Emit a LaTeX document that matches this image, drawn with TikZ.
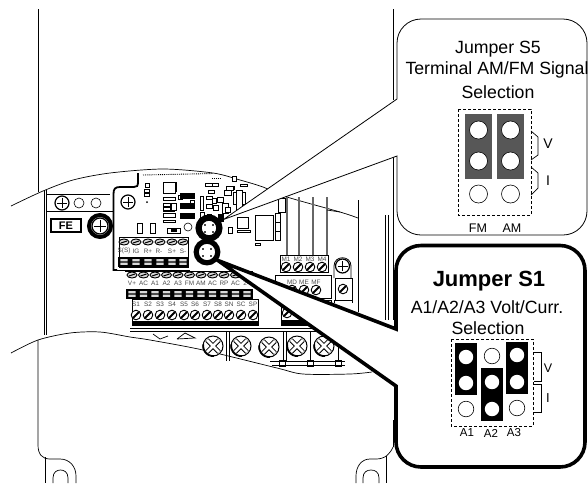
\documentclass[tikz,border=0pt]{standalone}
\usepackage{fontspec}
\setmainfont{Liberation Sans}
\definecolor{jumperGray}{HTML}{575757}
\definecolor{labelGray}{HTML}{4A4A4A}
\definecolor{blockGray}{HTML}{D8D8D8}
\tikzset{
  wire/.style={line width=0.7pt, black},
  part/.style={line width=0.6pt, draw=black, fill=white},
  solidpart/.style={line width=0.4pt, draw=black, fill=black},
  calloutthin/.style={line width=0.8pt, draw=black, fill=white},
  calloutthick/.style={line width=3.6pt, draw=black, fill=white, line join=miter},
  dashbox/.style={line width=0.6pt, draw=black, densely dashed},
  tinylabel/.style={font=\fontsize{6.4}{7}\selectfont, text=labelGray, inner sep=0pt},
  headtext/.style={font=\fontsize{17.7}{20}\selectfont, inner sep=0pt},
  pintext/.style={font=\fontsize{12.5}{14}\selectfont, inner sep=0pt},
}
\newcommand{\bigscrew}[2]{%
  \draw[part, line width=1pt] (#1,#2) circle[radius=10];
  \draw[line width=1.8pt] (#1+1,#2+10) arc[start angle=85, end angle=190, radius=10];
  \draw[line width=4.6pt] (#1-6,#2-6) -- (#1+6,#2+6) (#1-6,#2+6) -- (#1+6,#2-6);
  \draw[line width=2.8pt, white] (#1-6,#2-6) -- (#1+6,#2+6) (#1-6,#2+6) -- (#1+6,#2-6);%
}
\newcommand{\plusscrew}[3]{%
  \draw[part, line width=1.2pt] (#1,#2) circle[radius=#3];
  \draw[line width=0.8pt] (#1-#3+2,#2) -- (#1+#3-2,#2) (#1,#2-#3+2) -- (#1,#2+#3-2);%
}
\newcommand{\slotscrew}[2]{%
  \draw[part, line width=0.9pt] (#1,#2) circle[radius=4.8];
  \draw[line width=1.8pt] (#1-3,#2+3) -- (#1+3,#2-3);%
}
\newcommand{\flatscrew}[2]{%
  \draw[part, fill=blockGray, line width=0.9pt] (#1,#2) ellipse[x radius=5, y radius=3];
  \draw[line width=1pt] (#1-3,#2+1) -- (#1+3,#2-1);%
}
\newcommand{\boxcell}[2]{%
  \fill (#1-5.7,#2-4.6) rectangle (#1+5.7,#2+4.6);
  \fill[white!85!black] (#1-3.6,#2-2.8) rectangle (#1+3.6,#2-0.6) (#1-3.6,#2+0.6) rectangle (#1+3.6,#2+2.8);%
}
\begin{document}
\begin{tikzpicture}[x=1pt, y=-1pt]
\useasboundingbox (0,0) rectangle (588,483);

% --- HOUSING ---
\draw[wire] (38,9) -- (38,192);
\draw[wire] (38,340) -- (38,445) .. controls (38,454) and (42,459) .. (50,459)
  -- (60,459) .. controls (70,459) and (76,467) .. (76,476) -- (76,483);
\draw[wire] (45,457) -- (45,483);
\draw[wire] (53,483) -- (53,478) .. controls (53,472) and (57,470) .. (60.5,470)
  .. controls (64,470) and (68,472) .. (68,478) -- (68,483);
\draw[wire] (393,9) -- (393,100);
\draw[wire] (393,150) -- (393,320);
\draw[wire] (388,215) -- (388,320) (385,215) -- (385,320);
\draw[wire] (393,447) .. controls (390,454) and (385,459) .. (376,459)
  -- (370,459) .. controls (361,459) and (356,467) .. (356,476) -- (356,483);
\draw[wire] (386,456) -- (386,483);
\draw[wire] (363,483) -- (363,478) .. controls (363,472) and (367,470) .. (371,470)
  .. controls (375,470) and (379,472) .. (379,478) -- (379,483);
\draw[wire] (393,420) -- (393,447);

% --- CUT-AWAY EDGES ---
\draw[wire] plot[smooth] coordinates {(11,206) (43,191) (73,180) (110,173) (163,169)
  (213,173) (240,180) (263,187) (287,197) (340,212) (358,218)};
\draw[wire] plot[smooth] coordinates {(11,353) (38,340) (70,333) (100,332) (130,337)
  (150,340) (203,350) (277,368) (303,374) (350,374) (372,372)};

% --- LEFT PANEL ---
\draw[wire] (44,190) -- (44,335) (46.5,190) -- (46.5,335);
\draw[wire] (46,194) -- (110,194) (46,211) -- (113,211);
\plusscrew{62}{203}{7}
\draw[part] (79,203) circle[radius=5] (96,203) circle[radius=5];
\draw[part, line width=1.2pt] (51,219) rectangle (81,232);
\node[font=\bfseries\fontsize{11}{12}\selectfont, inner sep=0pt] (feText) at (66,226) {FE};
\draw[line width=4pt] (100,226) circle[radius=11];
\plusscrew{100}{226}{8}
\draw[line width=1.8pt] (117,270) -- (113.5,270) -- (113.5,194)
  .. controls (113.5,189) and (115,187) .. (120,187) -- (134,187)
  .. controls (137,187) and (138,186) .. (138,182) -- (138,173);
\draw[wire] (115,270) -- (190,270);

% --- BOARD PARTS ---
\plusscrew{128}{202}{7}
\fill (147,202) circle[radius=1];
\draw[line width=0.9pt, densely dotted] (143,175) -- (213,173.5);
\draw[line width=0.9pt, densely dotted] (212,178) -- (220,178);
\foreach \xa/\ya/\xb/\yb in {
  163/182/175/193, 145/183/149/187, 144/189/149/192, 144/193/149/196,
  163/197/175/200, 163/203/170/206, 163/207/170/210, 171/203/176/210,
  163/213/175/217, 163/220/175/222, 178/195/182/199, 137/223/142/233,
  150/223/155/233, 200/196/203/210, 206/196/212/199, 206/204/212/208,
  217/197/223/202, 222/203/228/213, 213/205/218/210, 227/186/234/189,
  225/207/230/212, 233/192/245/204, 237/217/248/228, 255/215/273/240,
  255/243/260/245, 236/190/242/212, 275/213/280/222, 275/222/280/231,
  275/231/280/240, 278/198/285/212, 226/186/233/190, 232/176/236/181,
  205/183/212/186, 212/183/218/186, 240/184/247/186, 228/227/232/233,
  237/230/250/232, 224/190/231/195, 208/190/214/193, 200/212/204/218,
  190/200/194/208, 212/198/216/203}{
  \draw[part] (\xa,\ya) rectangle (\xb,\yb);
}
\foreach \xa/\ya/\xb/\yb in {
  184/193/195/199, 184/203/195/209, 184/213/195/219, 180/193/184/199,
  180/203/184/209, 180/213/184/219, 170/229/176/233, 163/210/175/212,
  175/182/177/192, 207/214/212/222, 218/214/224/222}{
  \fill (\xa,\ya) rectangle (\xb,\yb);
}
\draw[part] (167,228) rectangle (180,233);
\fill (171,229) rectangle (177,232);
\draw[part] (188,227) circle[radius=4];

% --- TERMINAL ROW 1 ---
\draw[wire] (119,237) rectangle (188,267);
\foreach \xa in {124,136,148,160,172,183}{
  \flatscrew{\xa}{242}
  \boxcell{\xa}{262}
}
\foreach \xa/\lbl in {124/S(S), 136/IG, 148/R+, 159/R-, 172/S+, 183/S-}{
  \node[tinylabel] (upper\xa) at (\xa,251) {\lbl};
}

% --- TERMINAL ROW 2 ---
\draw[wire] (125,271) -- (253,271);
\foreach \xa in {132,143.5,155,166.5,178,189.5,201,212.5,224,235.5,247}{
  \flatscrew{\xa}{275}
  \boxcell{\xa}{294}
}
\foreach \xa/\lbl in {132/V+, 143.5/AC, 155/A1, 166.5/A2, 178/A3, 189.5/FM,
  201/AM, 212.5/AC, 224/RP, 235.5/AC, 247/24}{
  \node[tinylabel] (middle\xa) at (\xa,283) {\lbl};
}

% --- TERMINAL ROW 3 ---
\draw[line width=1pt] (132,299) rectangle (258,325);
\fill (132,321) rectangle (258,325);
\foreach \xa/\lbl in {136/S1, 148/S2, 160/S3, 172/S4, 184/S5, 195/S6,
  207/S7, 218/S8, 229/SN, 241/SC, 253/SP}{
  \node[tinylabel] (lower\lbl) at (\xa,304) {\lbl};
  \slotscrew{\xa}{315}
}

% --- RELAY BLOCK ---
\foreach \xa in {287,299,313,327}{
  \draw[line width=1.5pt, black!60] (\xa,197) -- (\xa,255);
}
\draw[wire] (327,210) -- (340,212);
\draw[wire] (358,200) -- (358,312);
\draw[part, line width=1pt] (280,255) rectangle (328,272);
\foreach \xa/\lbl in {286/M1, 298/M2, 310/M3, 322/M4}{
  \node[tinylabel] (relay\lbl) at (\xa,259) {\lbl};
  \slotscrew{\xa}{267}
}
\draw[part, line width=1pt] (275,275) rectangle (331,298);
\foreach \xa/\lbl in {292/MD, 304/ME, 316/MF}{
  \node[tinylabel] (relay\lbl) at (\xa,282) {\lbl};
  \slotscrew{\xa}{290}
}
\draw[part, line width=1pt] (281,300) rectangle (331,325);
\slotscrew{287}{313}
\fill (281,320) rectangle (331,325);
\draw[part, line width=0.8pt] (334,278) -- (334,266) .. controls (334,255) and (351,255) .. (351,266) -- (351,278);
\plusscrew{342.5}{266}{7}
\draw[part, line width=1pt] (335,278) rectangle (352,300);
\slotscrew{343}{289}
\draw[wire] (334,300) -- (334,303) (352,300) -- (352,303);

% --- POWER TERMINALS ---
\draw[line width=1pt] (130,328) -- (345,328) (130,331) -- (345,331);
\foreach \xa in {226,229,283,286,310,338}{
  \draw[wire] (\xa,332) -- (\xa,361);
}
\foreach \xa in {282,310,338}{
  \draw[part] (\xa-3,360) rectangle (\xa+3,366);
}
\draw[wire] (270,361) -- (345,361) (272,365) -- (345,365);
\draw[wire] (153,334) -- (160,339) -- (168,336) (177,339) -- (185,333) -- (195,338) -- (177,339);
\foreach \xa/\ya in {213/346, 241/346, 269/347, 297/346, 324/346}{
  \bigscrew{\xa}{\ya}
}

% --- CALLOUT S5 ---
\coordinate (tipFive) at (223.5,219.5);
\path[calloutthin] (tipFive) -- (397,99) [rounded corners=24pt] -- (397,19) -- (587,19)
  -- (587,235) -- (397,235) [sharp corners] -- (397,156) -- cycle;
\node[headtext] (titleFive) at (498,49) {Jumper S5};
\node[headtext] (signalFive) at (497,70) {Terminal AM/FM Signal};
\node[headtext] (selectFive) at (498,92) {Selection};
\draw[dashbox] (458,109) rectangle (531,215);
\foreach \xa/\lbl in {465/FM, 497/AM}{
  \fill[jumperGray] (\xa,114) rectangle (\xa+27,179);
  \draw[fill=white, line width=0.6pt] (\xa+13.5,130) circle[radius=9];
  \draw[fill=white, line width=0.6pt] (\xa+13.5,161) circle[radius=9];
  \draw[fill=white, line width=0.6pt] (\xa+13.5,194) circle[radius=9];
}
\node[pintext] (pinFM) at (478,228) {FM};
\node[pintext] (pinAM) at (512,228) {AM};
\draw[wire] (531,131) -- (538,137) -- (538,155) -- (531,160);
\draw[wire] (531,167) -- (538,173) -- (538,188) -- (531,195);
\node[pintext, font=\fontsize{14}{16}\selectfont] (voltFive) at (548,144) {V};
\node[pintext, font=\fontsize{14}{16}\selectfont] (currFive) at (548,181) {I};

% --- CALLOUT S1 ---
\coordinate (tipOne) at (218,260.5);
\path[calloutthick] (tipOne) -- (396,329) [rounded corners=25pt] -- (396,245.5) -- (585,245.5)
  -- (585,467) -- (396,467) [sharp corners] -- (396,386) -- cycle;
\node[font=\bfseries\fontsize{22}{24}\selectfont, inner sep=0pt] (titleOne) at (489,281) {Jumper S1};
\node[headtext] (voltCurr) at (487,307) {A1/A2/A3 Volt/Curr.};
\node[headtext] (selectOne) at (488,328) {Selection};
\draw[dashbox] (451,339) rectangle (533,426);
\fill (455,343) rectangle (477,395);
\fill (481,368) rectangle (503,421);
\fill (506,342) rectangle (528,394);
\foreach \xa/\ya in {466/357, 466/383, 492/382, 492/409, 517/355, 517/382}{
  \fill[white] (\xa,\ya) circle[radius=7.2];
}
\foreach \xa/\ya in {466/409, 492/356, 517/408}{
  \draw[fill=white, line width=0.6pt] (\xa,\ya) circle[radius=7.8];
}
\foreach \xa/\lbl in {467/A1, 491/A2, 514/A3}{
  \node[pintext, font=\fontsize{11.5}{13}\selectfont] (pin\lbl) at (\xa,433) {\lbl};
}
\draw[wire] (534,352) -- (541,352) -- (541,381) -- (534,381);
\draw[wire] (534,384) -- (541,384) -- (541,412) -- (534,412);
\node[pintext, font=\fontsize{12.5}{14}\selectfont] (voltOne) at (548,368) {V};
\node[pintext, font=\fontsize{13}{15}\selectfont] (currOne) at (548,398) {I};

% --- JUMPER RINGS ---
\draw[line width=6.2pt, fill=white] (209,228) circle[radius=10.4];
\draw[line width=5.2pt, fill=white] (207,252) circle[radius=10.8];
\foreach \xa/\ya in {205/225, 213/225, 205/232, 213/232, 203/249, 211/249, 203/256, 211/256}{
  \fill[black!70] (\xa-1.4,\ya-1.4) rectangle (\xa+1.4,\ya+1.4);
}
\end{tikzpicture}
\end{document}
